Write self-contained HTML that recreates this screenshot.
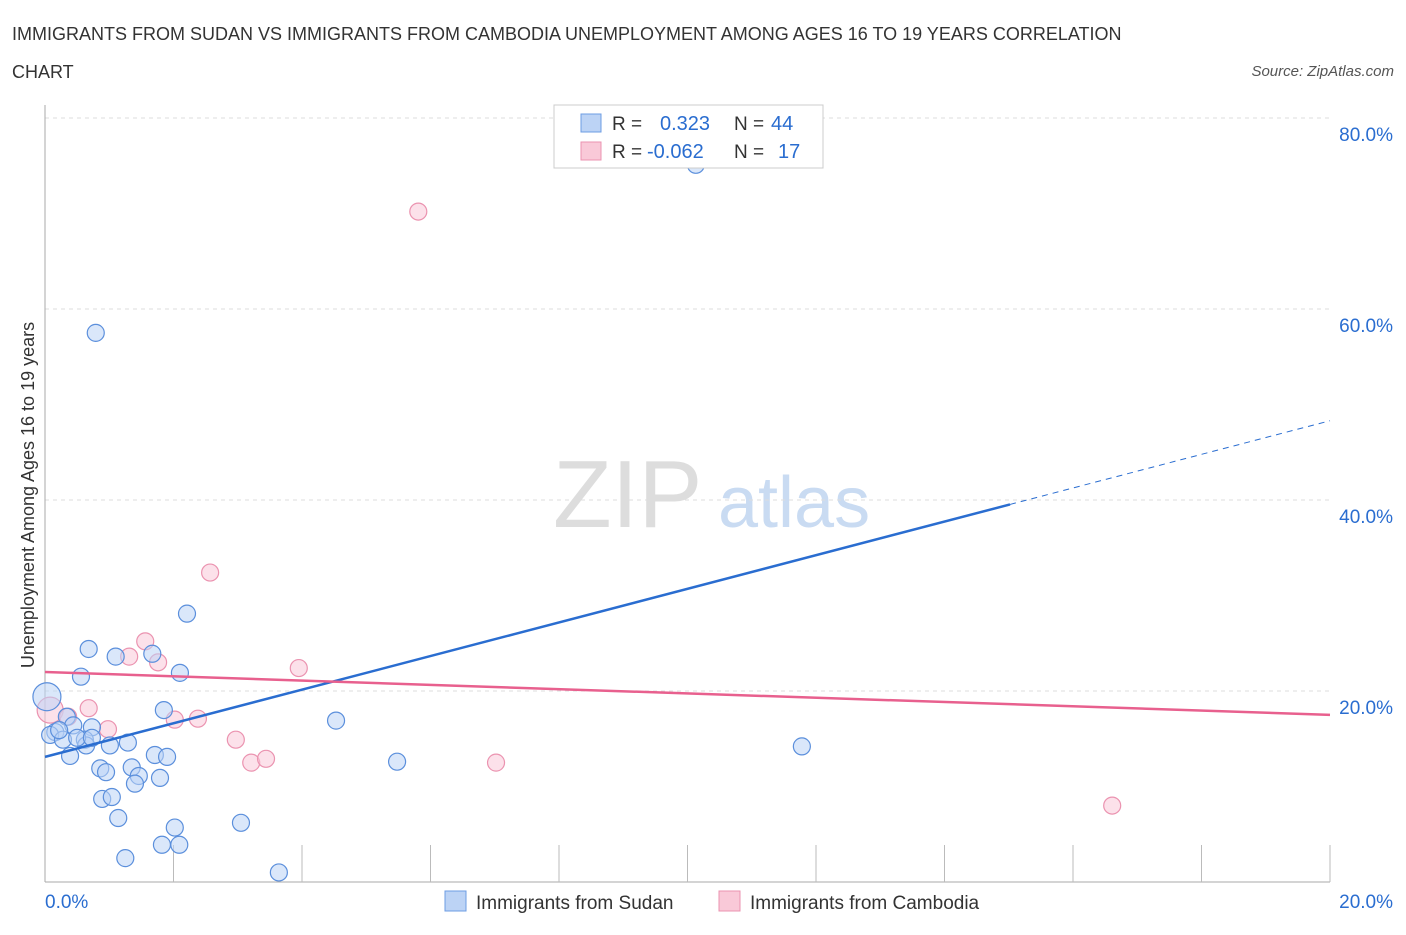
<!DOCTYPE html>
<html><head><meta charset="utf-8">
<style>
body{margin:0;background:#fff;font-family:"Liberation Sans",sans-serif;}
svg text{font-family:"Liberation Sans",sans-serif;}
</style></head>
<body>
<svg id="chart" width="1406" height="930" xmlns="http://www.w3.org/2000/svg">
<text x="12" y="40" font-size="18" fill="#333">IMMIGRANTS FROM SUDAN VS IMMIGRANTS FROM CAMBODIA UNEMPLOYMENT AMONG AGES 16 TO 19 YEARS CORRELATION</text>
<text x="12" y="78" font-size="18" fill="#333">CHART</text>
<text x="1394" y="76" font-size="15" fill="#555" font-style="italic" text-anchor="end">Source: ZipAtlas.com</text>
<text x="553" y="527" font-size="96" fill="#ddd" font-family="Liberation Serif">ZIP</text>
<text x="718" y="527" font-size="72" fill="#c9dbf2">atlas</text>
<text transform="translate(34,495) rotate(-90)" font-size="18" fill="#333" text-anchor="middle">Unemployment Among Ages 16 to 19 years</text>
<g id="grid"></g><g id="marks"></g>
<g>
<rect x="554" y="105" width="269" height="63" fill="#fff" stroke="#ccc"/>
<rect x="581" y="114" width="20" height="18" fill="#bcd3f5" stroke="#6d9de3"/>
<rect x="581" y="142" width="20" height="18" fill="#f9c9d8" stroke="#eb93b0"/>
<text x="612" y="130" font-size="19" fill="#333">R =</text>
<text x="660" y="130" font-size="20" fill="#2a6dd0">0.323</text>
<text x="734" y="130" font-size="19" fill="#333">N =</text>
<text x="771" y="130" font-size="20" fill="#2a6dd0">44</text>
<text x="612" y="158" font-size="19" fill="#333">R =</text>
<text x="647" y="158" font-size="20" fill="#2a6dd0">-0.062</text>
<text x="734" y="158" font-size="19" fill="#333">N =</text>
<text x="778" y="158" font-size="20" fill="#2a6dd0">17</text>
</g>
<g>
<rect x="445" y="891" width="21" height="20" fill="#bcd3f5" stroke="#6d9de3"/>
<text x="476" y="909" font-size="19" fill="#333">Immigrants from Sudan</text>
<rect x="719" y="891" width="21" height="20" fill="#f9c9d8" stroke="#eb93b0"/>
<text x="750" y="909" font-size="19" fill="#333">Immigrants from Cambodia</text>
</g>
</svg>
<script>
const yTicks=[20,40,60,80];
const yTickLabels=["20.0%","40.0%","60.0%","80.0%"];
const xTickLabels=["0.0%","20.0%"];
const sudanX=[10.13,0.79,2.21,0.68,1.10,1.67,2.10,0.56,1.85,4.53,0.73,0.03,0.34,0.44,0.16,0.08,0.28,0.62,1.01,0.64,1.29,0.39,1.71,1.90,0.86,0.95,1.35,1.46,1.79,1.40,0.89,1.04,1.14,3.05,2.02,1.82,2.09,1.25,3.64,5.48,11.78,0.22,0.50,0.73];
const sudanY=[75.1,57.5,28.1,24.4,23.6,23.9,21.9,21.5,18.0,16.9,16.2,19.4,17.3,16.4,15.7,15.4,14.9,14.9,14.3,14.3,14.6,13.2,13.3,13.1,11.9,11.5,12.0,11.1,10.9,10.3,8.7,8.9,6.7,6.2,5.7,3.9,3.9,2.5,1.0,12.6,14.2,15.9,15.1,15.1];
const cambX=[5.81,2.57,1.56,1.31,1.76,3.95,0.68,0.08,0.36,0.98,2.02,2.38,2.97,3.21,3.44,7.02,16.61];
const cambY=[70.2,32.4,25.2,23.6,23.0,22.4,18.2,18.0,17.3,16.0,17.0,17.1,14.9,12.5,12.9,12.5,8.0];
const sudanTrend=[13.1,48.3];
const cambTrend=[21.99,17.5];
const NS="http://www.w3.org/2000/svg";
const X0=45,X1=1330,Y0=882,YPER=191/20;
const sx=v=>X0+(v/20)*(X1-X0);
const sy=v=>Y0-v*YPER;
function mk(tag,attrs,parent){const e=document.createElementNS(NS,tag);for(const k in attrs)e.setAttribute(k,attrs[k]);parent.appendChild(e);return e;}
const grid=document.getElementById('grid'),marks=document.getElementById('marks');
yTicks.forEach((t,i)=>{
 const l=mk('line',{x1:X0,x2:X1,y1:sy(t),y2:sy(t),stroke:'#ddd','stroke-dasharray':'4,4'},grid);
 
 
 const tx=mk('text',{x:1393,y:sy(t)+23,'font-size':19,fill:'#2a6dd0','text-anchor':'end'},grid);
 tx.textContent=yTickLabels[i];
 
 
});
const ax=mk('line',{x1:X0,x2:X0,y1:105,y2:Y0,stroke:'#aaa'},grid);


const bx=mk('line',{x1:X0,x2:X1,y1:Y0,y2:Y0,stroke:'#aaa'},grid);


for(let i=1;i<=10;i++){
 const t=mk('line',{x1:sx(i*2),x2:sx(i*2),y1:845,y2:Y0,stroke:'#bbb'},grid);
 
 
}
[[0,45,'start'],[1,1393,'end']].forEach(([i,x,a])=>{
 const tx=mk('text',{x:x,y:908,'font-size':19,fill:'#2a6dd0','text-anchor':a},grid);
 tx.textContent=xTickLabels[i];
 
 
});
function dots(xs,ys,fill,stroke,name,bigIdx,bigR){
 xs.forEach((v,i)=>{
  const c=mk('circle',{cx:sx(v),cy:sy(ys[i]),r:i===bigIdx?bigR:8.5,fill:fill,'fill-opacity':0.55,stroke:stroke,'stroke-width':1.2},marks);
  
  
 });
}
dots(cambX,cambY,'#f9c9d8','#eb93b0','cambodia-point',7,13);
dots(sudanX,sudanY,'#bcd3f5','#5b8fdc','sudan-point',11,14);
const bEndX=15.02;
const bMid=sudanTrend[0]+(sudanTrend[1]-sudanTrend[0])*bEndX/20;
const l1=mk('line',{x1:sx(0),y1:sy(sudanTrend[0]),x2:sx(bEndX),y2:sy(bMid),stroke:'#2a6dd0','stroke-width':2.5},marks);


const l2=mk('line',{x1:sx(bEndX),y1:sy(bMid),x2:sx(20),y2:sy(sudanTrend[1]),stroke:'#2a6dd0','stroke-width':1,'stroke-dasharray':'6,5'},marks);


const l3=mk('line',{x1:sx(0),y1:sy(cambTrend[0]),x2:sx(20),y2:sy(cambTrend[1]),stroke:'#e8608e','stroke-width':2.5},marks);


</script>
</body></html>
